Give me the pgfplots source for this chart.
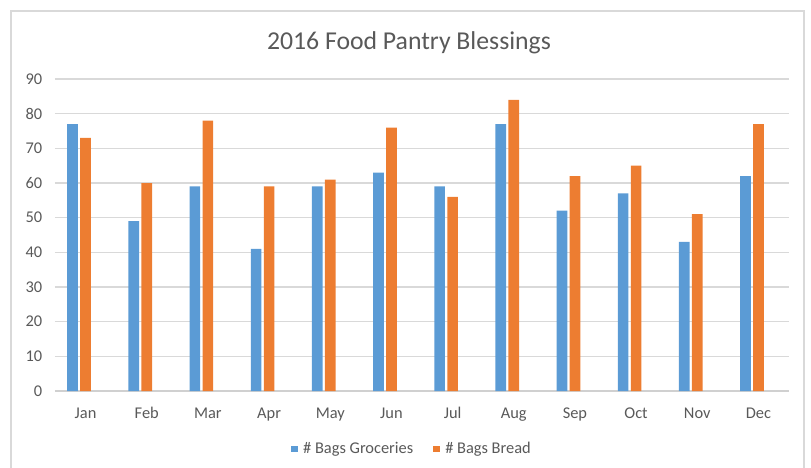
\documentclass[border=0pt]{standalone}
\usepackage{fontspec}
\setmainfont{Carlito}
\usepackage{pgfplots}
\pgfplotsset{compat=1.18}
\definecolor{cblue}{HTML}{5B9BD5}
\definecolor{corange}{HTML}{ED7D31}
\definecolor{ctext}{HTML}{595959}
\definecolor{cgrid}{HTML}{D9D9D9}
\definecolor{caxis}{HTML}{D0D0D0}
\begin{document}
\begin{tikzpicture}
\path[use as bounding box] (-41.25pt,-57.75pt) rectangle (567pt,293.25pt);
\draw[cgrid, line width=0.9pt] (-33pt,-70pt) -- (-33pt,285pt) -- (561.75pt,285pt) -- (561.75pt,-70pt);
\begin{axis}[
  at={(0pt,0pt)}, anchor=south west,
  scale only axis,
  width=550.5pt, height=234pt,
  xmin=-0.5, xmax=11.5,
  ymin=0, ymax=90,
  ytick={0,10,...,90},
  xtick={0,...,11},
  xticklabels={Jan,Feb,Mar,Apr,May,Jun,Jul,Aug,Sep,Oct,Nov,Dec},
  major tick length=0pt,
  axis x line=bottom,
  axis y line=left,
  axis line style={-},
  x axis line style={draw=caxis, line width=0.9pt},
  y axis line style={draw=none},
  ymajorgrids,
  grid style={cgrid, line width=0.9pt},
  /pgf/number format/assume math mode=true,
  tick label style={font=\fontsize{12.3}{14}\selectfont, text=ctext},
  xticklabel style={text height=8.5pt, text depth=2.5pt, yshift=-8.5pt},
  yticklabel style={xshift=-6pt},
  ybar, bar width=8pt,
  legend style={draw=none, fill=none, at={(axis description cs:0.4868,-0.1859)}, anchor=center,
    legend columns=2, font=\fontsize{12.3}{14}\selectfont, text=ctext,
    /tikz/every even column/.append style={column sep=13pt}},
  legend image code/.code={\fill[#1] (0pt,-2.45pt) rectangle (4.9pt,2.45pt); \path (7pt,0pt);},
]
\addplot[fill=cblue, draw=none, bar shift=-9.75pt] coordinates {
(0,77) (1,49) (2,59) (3,41) (4,59) (5,63) (6,59) (7,77) (8,52) (9,57) (10,43) (11,62)};
\addlegendentry{\# Bags Groceries}
\addplot[fill=corange, draw=none, bar shift=0pt] coordinates {
(0,73) (1,60) (2,78) (3,59) (4,61) (5,76) (6,56) (7,84) (8,62) (9,65) (10,51) (11,77)};
\addlegendentry{\# Bags Bread}
\end{axis}
\node[text=ctext, font=\fontsize{19.3}{22}\selectfont] at (265.5pt,261pt) {2016 Food Pantry Blessings};
\end{tikzpicture}
\end{document}
